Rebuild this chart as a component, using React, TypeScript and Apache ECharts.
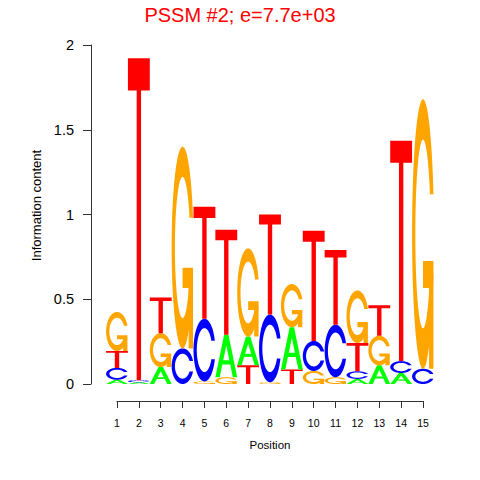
import React, { useEffect, useRef } from "react";
import * as echarts from "echarts";

// ---- data ----
const positions = [1, 2, 3, 4, 5, 6, 7, 8, 9, 10, 11, 12, 13, 14, 15];
const heightA = [0.025, 0.01, 0.1, 0, 0, 0.25, 0.17, 0, 0.25, 0, 0, 0.03, 0.11, 0.065, 0];
const heightC = [0.07, 0.012, 0, 0.21, 0.37, 0, 0, 0.4, 0, 0.177, 0.31, 0.045, 0, 0.07, 0.09];
const heightG = [0.23, 0, 0.2, 1.19, 0.015, 0.04, 0.52, 0.01, 0.255, 0.077, 0.04, 0.31, 0.175, 0, 1.59];
const heightT = [0.1, 1.9, 0.21, 0, 0.66, 0.62, 0.11, 0.59, 0.085, 0.65, 0.44, 0.167, 0.18, 1.3, 0];
const letterNames = ["A", "C", "G", "T"];
const letterColors = ["#00FF00", "#0000FF", "#FFA500", "#FF0000"];
const titleText = "PSSM #2; e=7.7e+03";
const xName = "Position";
const yName = "Information content";

// ---- letter outlines (unit square, y up) ----
type Pt = [number, number];
function seq(a: number, b: number, n: number) {
  const out: number[] = [];
  for (let i = 0; i < n; i++) out.push(a + ((b - a) * i) / (n - 1));
  return out;
}
function cOutline(): Pt[] {
  const n = 40;
  const a1 = seq(0.3 + Math.PI / 2, Math.PI, n);
  const a2 = seq(Math.PI, 1.5 * Math.PI, n);
  const xl1 = a1.map((a) => 0.5 + 0.5 * Math.sin(a));
  const yl1 = a1.map((a) => 0.5 + 0.5 * Math.cos(a));
  const xl2 = a2.map((a) => 0.5 + 0.5 * Math.sin(a));
  const yl2 = a2.map((a) => 0.5 + 0.5 * Math.cos(a));
  const xl = [...xl1, ...xl2];
  const yl = [...yl1, ...yl2];
  const x = [...xl, ...[...xl].reverse()];
  const y = [...yl, ...[...yl].reverse().map((v) => 1 - v)];
  const maxY = Math.max(...yl1);
  let xi1 = a1.map((a) => 0.5 + 0.35 * Math.sin(a));
  let yi1 = a1.map((a) => 0.5 + 0.35 * Math.cos(a));
  const keep = yi1.map((v) => v <= maxY);
  xi1 = xi1.filter((_, i) => keep[i]);
  yi1 = yi1.filter((_, i) => keep[i]);
  yi1[0] = maxY;
  const xi2 = a2.map((a) => 0.5 + 0.35 * Math.sin(a));
  const yi2 = a2.map((a) => 0.5 + 0.35 * Math.cos(a));
  const xi = [...xi1, ...xi2];
  const yi = [...yi1, ...yi2];
  const x1 = [...xi, ...[...xi].reverse()];
  const y1 = [...yi, ...[...yi].reverse().map((v) => 1 - v)];
  const X = [...x, ...[...x1].reverse()];
  const Y = [...y, ...[...y1].reverse()];
  return X.map((v, i) => [v, Y[i]] as Pt);
}
const r1 = 0.5 + 0.5 * Math.sin(0.3 + Math.PI / 2);
const SHAPES: Pt[][][] = [
  // A: one path with outer + reversed hole
  [[
    [[0, 0], [0.4, 1], [0.6, 1], [1, 0], [0.8, 0], [0.68, 0.3], [0.32, 0.3], [0.2, 0]],
    [[0.36, 0.4], [0.64, 0.4], [0.5, 0.75]],
  ]],
  // C
  [[cOutline()]],
  // G: two separate paths
  [
    [cOutline()],
    [[[r1, 0.4], [0.5, 0.4], [0.5, 0.3], [r1 - 0.2, 0.3], [r1 - 0.2, 0], [r1, 0]]],
  ],
  // T
  [[[[0, 1], [1, 1], [1, 0.9], [0.6, 0.9], [0.6, 0], [0.4, 0], [0.4, 0.9], [0, 0.9]]]],
];

// ---- stacked items ----
const heights = [heightA, heightC, heightG, heightT];
const items: number[][] = [];
positions.forEach((p, i) => {
  const col = [0, 1, 2, 3]
    .map((li) => ({ li, h: heights[li][i] }))
    .filter((d) => d.h > 0)
    .sort((a, b) => a.h - b.h);
  let base = 0;
  col.forEach((d) => {
    items.push([p, base, base + d.h, d.li]);
    base += d.h;
  });
});

const FONT = "Liberation Sans, Arial, sans-serif";

export default function App() {
  const ref = useRef<HTMLDivElement>(null);
  useEffect(() => {
    if (!ref.current) return;
    const chart = echarts.init(ref.current, undefined, { renderer: "svg" });
    const axisColor = "#333";
    chart.setOption({
      animation: false,
      backgroundColor: "#fff",
      title: {
        text: titleText,
        left: "center",
        top: 0,
        textStyle: { color: "#FF0000", fontWeight: "normal", fontSize: 20, fontFamily: FONT },
      },
      grid: { left: 117, right: 57, top: 45, bottom: 96, containLabel: false },
      xAxis: {
        type: "value",
        min: 1,
        max: 15,
        interval: 1,
        offset: 17,
        axisLine: { show: true, onZero: false, lineStyle: { color: axisColor } },
        axisTick: { show: true, length: 7, lineStyle: { color: axisColor } },
        axisLabel: { fontSize: 10.5, color: "#000", margin: 16, fontFamily: FONT },
        splitLine: { show: false },
        name: xName,
        nameLocation: "middle",
        nameGap: 38,
        nameTextStyle: { fontSize: 11.5, color: "#000", fontFamily: FONT },
      },
      yAxis: {
        type: "value",
        min: 0,
        max: 2,
        interval: 0.5,
        offset: 26,
        axisLine: { show: true, onZero: false, lineStyle: { color: axisColor } },
        axisTick: { show: true, length: 8, lineStyle: { color: axisColor } },
        axisLabel: { fontSize: 14.5, color: "#000", margin: 17, fontFamily: FONT },
        splitLine: { show: false },
        name: yName,
        nameLocation: "middle",
        nameGap: 45,
        nameTextStyle: { fontSize: 13, color: "#000", fontFamily: FONT, padding: [0, 0, 0, 18] },
      },
      series: [
        {
          type: "custom",
          clip: false,
          data: items,
          encode: { x: 0, y: [1, 2] },
          renderItem: (params: any, api: any) => {
            const pos = api.value(0);
            const y0 = api.value(1);
            const y1 = api.value(2);
            const li = api.value(3);
            const tl = api.coord([pos - 0.5, y1]);
            const br = api.coord([pos + 0.5, y0]);
            const x = tl[0];
            const y = tl[1];
            const w = br[0] - tl[0];
            const h = br[1] - tl[1];
            const children = SHAPES[li].map((subs) => ({
              type: "path",
              shape: {
                pathData: subs
                  .map(
                    (sp) =>
                      "M" +
                      sp
                        .map(([u, v]) => `${(x + u * w).toFixed(2)} ${(y + (1 - v) * h).toFixed(2)}`)
                        .join(" L") +
                      " Z"
                  )
                  .join(" "),
              },
              style: { fill: letterColors[li] },
            }));
            return { type: "group", children };
          },
        },
      ],
    });
    return () => chart.dispose();
  }, []);
  return (
    <div
      ref={ref}
      style={{ position: "fixed", left: 0, top: 0, width: 480, height: 480 }}
    />
  );
}
